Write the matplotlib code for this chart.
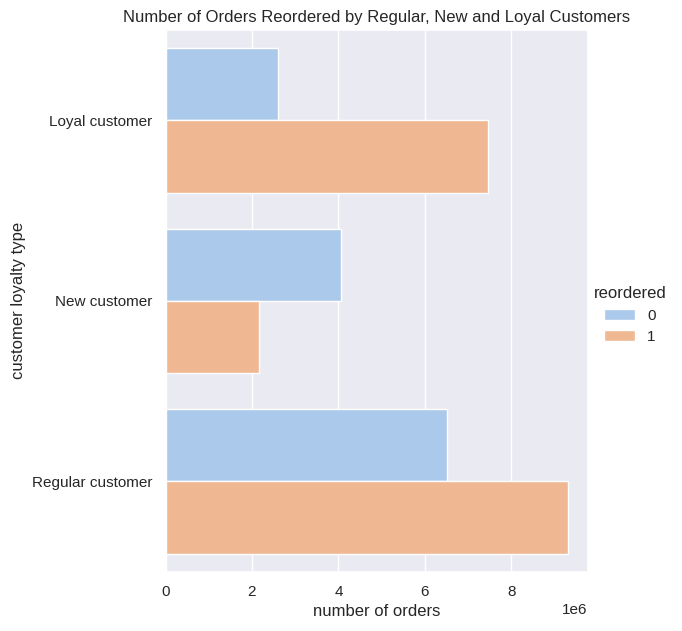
import pandas as pd
import matplotlib.pyplot as plt
import seaborn as sns

# values
loyalty = ['Loyal customer', 'New customer', 'Regular customer']
not_reordered = [2.61e6, 4.05e6, 6.52e6]
reordered = [7.45e6, 2.16e6, 9.30e6]

df = pd.DataFrame({
    'loyalty_flag': loyalty * 2,
    'reordered': ['0'] * 3 + ['1'] * 3,
    'count': not_reordered + reordered,
})

sns.set_theme(style='darkgrid')
plt.rcParams['font.family'] = ['Liberation Sans', 'DejaVu Sans']

fig = plt.figure(figsize=(6.82, 6.31), dpi=100)
ax = fig.add_axes([165.5 / 682, 1 - 571.7 / 631, (587.7 - 165.5) / 682, (571.7 - 30) / 631])

sns.barplot(data=df, x='count', y='loyalty_flag', hue='reordered',
            palette='pastel', orient='h', ax=ax, edgecolor='white', linewidth=1)
ax.set_xlim(0, max(not_reordered + reordered) * 1.05)
ax.set_xlabel('number of orders')
ax.set_ylabel('customer loyalty type')
ax.set_title('Number of Orders Reordered by Regular, New and Loyal Customers')

handles, labels = ax.get_legend_handles_labels()
ax.get_legend().remove()
fig.legend(handles, labels, title='reordered', loc='center left',
           bbox_to_anchor=(580 / 682, 1 - 315 / 631), frameon=False)

fig.savefig('out.png', dpi=100)
